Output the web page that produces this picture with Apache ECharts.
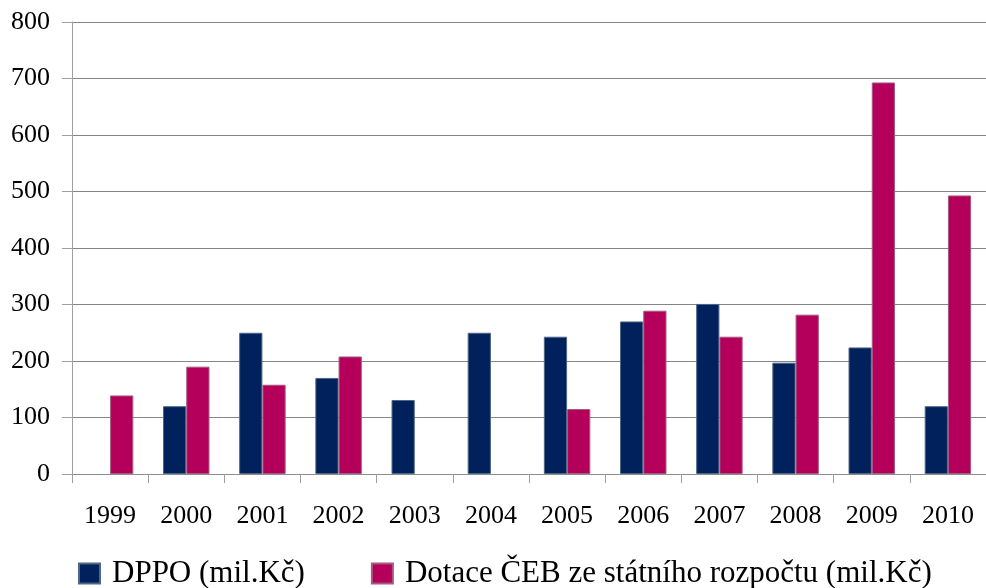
<!DOCTYPE html>
<html lang="cs">
<head>
    <meta charset="UTF-8">
    <title>DPPO a dotace ČEB</title>
    <script src="https://cdn.jsdelivr.net/npm/echarts@6/dist/echarts.min.js"></script>
    <style>
        * { margin: 0; padding: 0; }
        body { background: #fff; }
        #chart { width: 986px; height: 588px; }
    </style>
</head>
<body>
    <div id="chart"></div>
    <script type="text/javascript">
        // data (null = no bar that year)
        var years = ['1999', '2000', '2001', '2002', '2003', '2004', '2005', '2006', '2007', '2008', '2009', '2010'];
        var dppo = [null, 120, 250, 170, 131, 250, 243, 270, 301, 197, 224, 120];
        var dotace = [139, 190, 158, 208, null, null, 115, 289, 243, 282, 693, 493];
        var yTicks = [0, 100, 200, 300, 400, 500, 600, 700, 800];

        var seriesNames = ['DPPO (mil.Kč)', 'Dotace ČEB ze státního rozpočtu (mil.Kč)'];
        var font = '"Liberation Serif", "Times New Roman", serif';

        var myChart = echarts.init(document.getElementById('chart'));

        var option = {
            animation: false,
            grid: { left: 72, right: -12, top: 22, bottom: 114, containLabel: false },
            legend: {
                data: seriesNames,
                left: 73,
                top: 553,
                itemWidth: 21,
                itemHeight: 20,
                itemGap: 66,
                icon: 'rect',
                textStyle: {
                    fontFamily: font,
                    fontSize: 31,
                    color: '#000',
                    padding: [0, 0, 0, 7]
                }
            },
            xAxis: {
                type: 'category',
                data: years,
                axisLine: { lineStyle: { color: '#8c8c8c', width: 1 } },
                axisTick: { show: true, length: 9, lineStyle: { color: '#a0a0a0' } },
                axisLabel: { fontFamily: font, fontSize: 26, color: '#000', margin: 29 }
            },
            yAxis: {
                type: 'value',
                min: yTicks[0],
                max: yTicks[yTicks.length - 1],
                interval: 100,
                axisLine: { show: true, lineStyle: { color: '#a0a0a0' } },
                axisTick: { show: true, length: 10, lineStyle: { color: '#a0a0a0' } },
                axisLabel: { fontFamily: font, fontSize: 26, color: '#000', margin: 22 },
                splitLine: { lineStyle: { color: '#858585', width: 1 } }
            },
            series: [{
                name: seriesNames[0],
                type: 'bar',
                data: dppo,
                barGap: 0,
                barCategoryGap: '39%',
                itemStyle: { color: '#00215c', borderColor: '#4d6787', borderWidth: 1 }
            }, {
                name: seriesNames[1],
                type: 'bar',
                data: dotace,
                barGap: 0,
                barCategoryGap: '39%',
                itemStyle: { color: '#b5005b', borderColor: '#a45a82', borderWidth: 1 }
            }]
        };

        myChart.setOption(option);
    </script>
</body>
</html>
